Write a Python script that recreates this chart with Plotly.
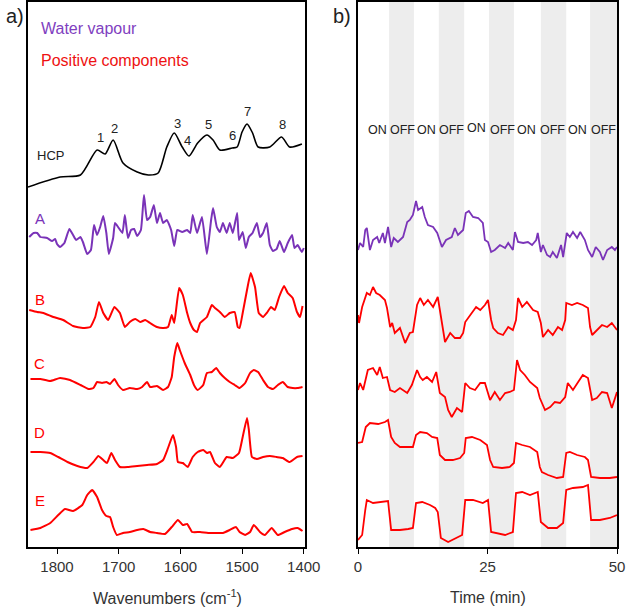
import plotly.graph_objects as go

# ---------------- Panel a: spectra (wavenumber, intensity a.u.) ----------------
WN_HCP = [1847, 1795, 1762, 1735, 1722, 1709, 1693, 1670, 1652, 1636, 1622, 1610, 1597, 1586,
          1572, 1557, 1547, 1536, 1516, 1508, 1500, 1492, 1483, 1474, 1455, 1436, 1423, 1403]
HCP = [3, 13, 15, 40, 36, 50, 27, 18, 15, 17, 43, 57, 43, 34,
       47, 55, 50, 40, 42, 43, 58, 66, 57, 43, 43, 53, 43, 46]

WN_A = [1845, 1838, 1832, 1827, 1816, 1808, 1803, 1800, 1795, 1788, 1780, 1774, 1769, 1762, 1758,
        1751, 1745, 1740, 1735, 1730, 1725, 1720, 1716, 1709, 1706, 1701, 1694, 1690, 1685, 1680,
        1675, 1670, 1664, 1659, 1654, 1649, 1643, 1638, 1633, 1628, 1622, 1615, 1610, 1605, 1597,
        1589, 1584, 1580, 1573, 1565, 1557, 1550, 1547, 1541, 1536, 1531, 1525, 1520, 1515, 1508,
        1505, 1499, 1494, 1489, 1483, 1476, 1471, 1466, 1460, 1455, 1450, 1444, 1439, 1432, 1426,
        1419, 1415, 1410, 1403, 1400]
SPEC_A = [18, 22, 22, 18, 17, 14, 16, 11, 8, 12, 26, 20, 15, 18, 13,
          1, 5, 30, 20, 28, 39, 22, 1, 17, 32, 28, 22, 40, 17, 25,
          26, 19, 25, 60, 35, 38, 50, 32, 42, 32, 35, 25, 9, 25, 23,
          25, 22, 40, 22, 38, 1, 36, 47, 28, 23, 32, 22, 32, 22, 42,
          15, 23, 7, 18, 22, 32, 18, 22, 32, 10, 4, 6, 14, 3, 12,
          20, 7, 10, 3, 7]

WN_B = [1845, 1832, 1822, 1806, 1790, 1774, 1758, 1746, 1738, 1732, 1725, 1717, 1707, 1698, 1690,
        1682, 1673, 1665, 1657, 1649, 1638, 1628, 1620, 1614, 1610, 1602, 1596, 1589, 1584, 1578,
        1573, 1568, 1557, 1549, 1544, 1536, 1528, 1520, 1512, 1507, 1504, 1499, 1492, 1486, 1479,
        1473, 1466, 1460, 1453, 1447, 1440, 1432, 1426, 1418, 1411, 1406, 1402]
SPEC_B = [20, 18, 17, 13, 10, 4, 2, 3, 13, 28, 17, 10, 23, 17, 3,
          8, 11, 8, 10, 7, 3, 2, 3, 15, 7, 42, 35, 17, 7, 0,
          -2, 7, 13, 25, 22, 18, 13, 17, 18, 3, 2, 17, 40, 57, 43,
          17, 13, 17, 23, 20, 33, 44, 37, 32, 18, 13, 24]

WN_C = [1843, 1827, 1811, 1795, 1779, 1762, 1749, 1741, 1735, 1727, 1720, 1714, 1707, 1701, 1693,
        1682, 1670, 1662, 1654, 1649, 1638, 1628, 1620, 1614, 1610, 1605, 1601, 1593, 1584, 1578,
        1572, 1563, 1557, 1549, 1542, 1536, 1528, 1520, 1512, 1504, 1495, 1487, 1481, 1474, 1466,
        1458, 1450, 1442, 1434, 1426, 1418, 1410, 1402]
SPEC_C = [13, 13, 11, 14, 12, 7, 3, 4, 10, 9, 10, 8, 13, 7, 2,
          4, 3, 5, 10, 5, 6, 2, 5, 15, 35, 49, 42, 29, 17, 7,
          2, 7, 19, 20, 24, 19, 14, 10, 7, 4, 9, 19, 22, 20, 12,
          5, 3, 7, 10, 5, 4, 4, 5]

WN_D = [1843, 1827, 1811, 1798, 1783, 1767, 1751, 1741, 1733, 1725, 1719, 1712, 1706, 1698, 1685,
        1670, 1654, 1638, 1628, 1620, 1612, 1607, 1604, 1596, 1588, 1580, 1572, 1563, 1557, 1552,
        1544, 1536, 1525, 1515, 1505, 1499, 1492, 1489, 1484, 1476, 1466, 1455, 1444, 1434, 1423,
        1411, 1402]
SPEC_D = [18, 18, 17, 13, 8, 4, 2, 8, 14, 10, 7, 17, 10, 3, 3,
          4, 5, 6, 10, 22, 35, 23, 8, 7, 3, 13, 18, 20, 17, 18,
          7, 3, 13, 12, 17, 33, 52, 40, 13, 11, 13, 14, 13, 12, 8,
          13, 14]

WN_E = [1843, 1827, 1811, 1798, 1787, 1774, 1759, 1751, 1743, 1735, 1727, 1720, 1714, 1709, 1703,
        1693, 1682, 1670, 1660, 1649, 1638, 1625, 1614, 1604, 1596, 1589, 1581, 1568, 1555, 1541,
        1531, 1520, 1510, 1504, 1495, 1487, 1481, 1471, 1463, 1452, 1442, 1431, 1419, 1410, 1402]
SPEC_E = [7, 9, 14, 22, 28, 26, 32, 42, 47, 40, 27, 21, 20, 10, 2,
          4, 5, 7, 8, 5, 4, 3, 10, 17, 12, 13, 5, 5, 4, 4,
          4, 7, 10, 5, 2, 5, 12, 5, 2, 9, 2, 5, 8, 9, 6]

PEAK_NUMS = ["1", "2", "3", "4", "5", "6", "7", "8"]
PEAK_WN = [1730, 1707, 1605, 1588, 1555, 1516, 1491, 1434]

# ---------------- Panel b: time traces (min, intensity a.u.) ----------------
T_A = [0.0, 0.4, 1.0, 1.4, 1.7, 2.3, 2.9, 3.7, 4.1, 4.8, 5.2, 5.8, 6.4, 6.9, 7.7, 8.7, 9.5, 10.0,
       10.6, 11.2, 11.6, 12.4, 12.9, 13.5, 14.5, 15.3, 16.2, 17.0, 18.1, 18.7, 19.3, 20.3, 20.8,
       21.4, 22.2, 23.2, 24.1, 24.5, 25.1, 25.7, 26.4, 27.4, 28.4, 29.0, 29.9, 30.3, 30.9, 31.9,
       32.8, 33.6, 34.4, 34.7, 35.3, 35.7, 36.5, 37.1, 37.6, 38.4, 39.2, 39.6, 40.3, 40.9, 41.5,
       42.3, 42.9, 43.8, 44.4, 45.2, 45.9, 46.7, 47.3, 48.1, 49.0, 49.6, 50.0]
TR_A = [10, 17, 13, 30, 32, 10, 20, 23, 17, 27, 17, 33, 13, 22, 18, 23, 38, 40,
        45, 59, 50, 53, 43, 35, 33, 27, 13, 20, 23, 32, 25, 30, 47,
        49, 43, 42, 37, 20, 18, 8, 10, 15, 12, 17, 10, 28, 18, 17,
        18, 15, 20, 27, 8, 15, 5, 3, 8, 2, 15, 3, 27, 23, 28,
        22, 28, 20, 10, 3, 13, 8, 0, 10, 13, 10, 13]

T_B = [0.0, 0.2, 0.8, 1.7, 2.3, 2.9, 3.5, 4.2, 5.2, 5.6, 6.2, 6.6, 7.1, 8.1, 9.1, 10.0, 10.6,
       11.0, 11.4, 12.0, 12.7, 13.5, 14.5, 15.4, 16.0, 16.4, 16.8, 17.8, 18.7, 19.7, 20.3, 20.7,
       21.0, 22.0, 22.8, 23.6, 24.5, 25.1, 25.7, 26.1, 27.0, 28.0, 29.0, 29.9, 30.5, 30.9, 31.7,
       32.6, 33.8, 34.7, 35.3, 35.7, 36.7, 37.6, 38.6, 39.4, 40.0, 40.2, 41.3, 42.3, 43.4, 44.4,
       44.8, 45.2, 46.1, 47.1, 48.1, 49.0, 50.0]
TR_B = [30, 22, 38, 52, 50, 58, 52, 50, 45, 37, 18, 22, 12, 17, 2, 12, 13,
        25, 40, 47, 40, 45, 38, 48, 28, 15, 3, 12, 7, 7, 12, 23,
        25, 32, 38, 35, 40, 45, 25, 17, 12, 10, 18, 15, 25, 47, 38,
        43, 35, 33, 22, 8, 15, 10, 18, 15, 25, 42, 40, 42, 40, 37,
        18, 10, 15, 20, 18, 22, 15]

T_C = [0.0, 0.4, 1.0, 1.9, 2.9, 3.7, 4.2, 4.8, 5.6, 6.2, 7.1, 8.1, 9.5, 10.4, 11.4, 12.0, 12.5,
       13.3, 14.3, 15.1, 15.8, 16.8, 17.4, 18.1, 19.1, 20.1, 20.7, 21.6, 22.6, 23.6, 24.5, 25.5,
       26.4, 27.4, 28.4, 29.3, 30.1, 30.7, 31.3, 32.2, 33.2, 34.6, 35.1, 36.1, 37.1, 38.0, 39.0,
       40.0, 40.5, 41.5, 42.5, 43.4, 44.4, 45.2, 46.1, 47.1, 48.1, 49.0, 50.0]
TR_C = [30, 37, 30, 50, 52, 45, 53, 42, 43, 30, 28, 32, 27, 35, 50, 43, 40,
        43, 38, 48, 27, 23, 10, 3, 12, 8, 37, 32, 30, 37, 37, 20,
        28, 20, 27, 28, 30, 60, 50, 45, 38, 32, 22, 10, 13, 18, 17,
        23, 37, 30, 38, 45, 42, 20, 22, 28, 27, 12, 28]

T_D = [0.0, 0.8, 1.5, 2.3, 3.9, 5.2, 5.8, 6.4, 7.1, 8.1, 9.5, 10.6, 11.2, 12.0, 13.3, 14.3, 15.3,
       15.8, 16.8, 18.3, 19.7, 20.5, 20.8, 22.0, 23.6, 24.9, 25.5, 26.1, 27.8, 29.3, 30.1, 30.5,
       31.7, 33.2, 34.6, 35.1, 35.5, 36.7, 38.4, 39.6, 40.2, 40.9, 42.3, 43.8, 44.4, 45.0, 46.7,
       48.6, 50.0]
TR_D = [37, 38, 53, 57, 56, 58, 60, 43, 37, 33, 33, 33, 45, 48, 47, 43, 42,
        25, 20, 20, 22, 27, 42, 43, 40, 35, 20, 13, 12, 13, 17, 37,
        35, 33, 28, 13, 8, 5, 2, 3, 27, 28, 25, 23, 20, 3, 2,
        2, 3]

T_E = [0.0, 0.8, 1.4, 1.7, 2.9, 4.2, 5.8, 6.4, 8.1, 9.7, 10.6, 11.2, 12.4, 13.9, 14.9, 15.4, 16.0,
       17.4, 19.1, 20.1, 20.7, 22.2, 24.1, 25.1, 25.7, 26.8, 28.4, 29.9, 30.5, 31.7, 33.2, 34.7,
       35.3, 36.7, 38.4, 39.6, 40.2, 41.5, 43.4, 44.4, 45.0, 46.7, 48.6, 50.0]
TR_E = [5, 10, 35, 45, 42, 43, 44, 15, 15, 16, 17, 42, 43, 40, 37, 33, 7,
        3, 7, 10, 45, 45, 42, 45, 13, 12, 10, 13, 52, 53, 50, 53,
        23, 17, 17, 22, 55, 57, 58, 60, 25, 25, 27, 30]

BAND_STARTS = [6.0, 15.6, 25.3, 35.3, 44.8]
BAND_ENDS = [10.8, 20.5, 30.1, 40.2, 50.0]
SWITCH_LABELS = ["ON", "OFF", "ON", "OFF", "ON", "OFF", "ON", "OFF", "ON", "OFF"]
SWITCH_T = [3.7, 8.5, 13.3, 18.1, 22.8, 27.8, 32.6, 37.6, 42.3, 47.3]

TRACE_NAMES = ["A", "B", "C", "D", "E"]

# ---------------- styling / layout ----------------
PURPLE = "#7A33B8"
RED = "#FF0000"
FONT = "Liberation Sans, Arial, sans-serif"

# vertical stacking offsets (axis units)
OFF_A = {"HCP": 357, "A": 292, "B": 217, "C": 155, "D": 77, "E": 10}
OFF_B = {"A": 287, "B": 202, "C": 127, "D": 67, "E": 2}

fig = go.Figure()

fig.add_trace(go.Scatter(x=WN_HCP, y=[v + OFF_A["HCP"] for v in HCP], mode="lines",
                         line=dict(color="black", width=1.6, shape="spline", smoothing=0.7),
                         xaxis="x", yaxis="y", showlegend=False, hoverinfo="skip"))
panel_a = [("A", WN_A, SPEC_A, PURPLE), ("B", WN_B, SPEC_B, RED), ("C", WN_C, SPEC_C, RED),
           ("D", WN_D, SPEC_D, RED), ("E", WN_E, SPEC_E, RED)]
for name, xs, ys, col in panel_a:
    fig.add_trace(go.Scatter(x=xs, y=[v + OFF_A[name] for v in ys], mode="lines",
                             line=dict(color=col, width=2, shape="spline", smoothing=0.4),
                             xaxis="x", yaxis="y", showlegend=False, hoverinfo="skip"))

panel_b = [("A", T_A, TR_A, PURPLE), ("B", T_B, TR_B, RED), ("C", T_C, TR_C, RED),
           ("D", T_D, TR_D, RED), ("E", T_E, TR_E, RED)]
for name, xs, ys, col in panel_b:
    fig.add_trace(go.Scatter(x=xs, y=[v + OFF_B[name] for v in ys], mode="lines",
                             line=dict(color=col, width=1.8),
                             xaxis="x2", yaxis="y2", showlegend=False, hoverinfo="skip"))

shapes = []
for s, e in zip(BAND_STARTS, BAND_ENDS):
    shapes.append(dict(type="rect", xref="x2", yref="y2 domain", x0=s, x1=e, y0=0, y1=1,
                       fillcolor="#EDEDED", line=dict(width=0), layer="below"))

CM = dict(xanchor="center", yanchor="middle", showarrow=False)
ann = []
# panel letters
ann.append(dict(text="a)", x=15 / 626, y=1 - 16 / 609, xref="paper", yref="paper",
                font=dict(size=20, color="#222", family=FONT), **CM))
ann.append(dict(text="b)", x=342 / 626, y=1 - 16 / 609, xref="paper", yref="paper",
                font=dict(size=20, color="#222", family=FONT), **CM))
# legend-like texts
ann.append(dict(text="Water vapour", x=1829, y=518, xref="x", yref="y", xanchor="left",
                yanchor="middle", showarrow=False,
                font=dict(size=16, color="#8040C0", family=FONT)))
ann.append(dict(text="Positive components", x=1829, y=487, xref="x", yref="y", xanchor="left",
                yanchor="middle", showarrow=False,
                font=dict(size=16, color="#EE1111", family=FONT)))
ann.append(dict(text="HCP", x=1835, y=392, xref="x", yref="y", xanchor="left",
                yanchor="middle", showarrow=False,
                font=dict(size=13, color="#222", family=FONT)))
label_y = [329, 248, 184, 115, 47]
for name, ly in zip(TRACE_NAMES, label_y):
    ann.append(dict(text=name, x=1828, y=ly, xref="x", yref="y",
                    font=dict(size=15, color=PURPLE if name == "A" else RED, family=FONT), **CM))
peak_y = [410, 419, 424, 407, 423, 412, 436, 423]
for n, w, py in zip(PEAK_NUMS, PEAK_WN, peak_y):
    ann.append(dict(text=n, x=w, y=py, xref="x", yref="y",
                    font=dict(size=13, color="#222", family=FONT), **CM))
for i, (lab, t) in enumerate(zip(SWITCH_LABELS, SWITCH_T)):
    ann.append(dict(text=lab, x=t, y=419 if i == 4 else 417, xref="x2", yref="y2",
                    font=dict(size=12.5, color="#222", family=FONT), **CM))
# axis titles
ann.append(dict(text="Wavenumbers (cm<sup>-1</sup>)", x=167 / 626, y=1 - 597 / 609,
                xref="paper", yref="paper",
                font=dict(size=16, color="#333", family=FONT), **CM))
ann.append(dict(text="Time (min)", x=488 / 626, y=1 - 597 / 609,
                xref="paper", yref="paper",
                font=dict(size=16, color="#333", family=FONT), **CM))

axis_common = dict(showline=True, mirror=True, linecolor="black", linewidth=1.5,
                   showgrid=False, zeroline=False, automargin=False)
ydom = [1 - 547 / 609, 1 - 2 / 609]

fig.update_layout(
    width=626, height=609,
    margin=dict(l=0, r=0, t=0, b=0, pad=0, autoexpand=False),
    paper_bgcolor="white", plot_bgcolor="rgba(0,0,0,0)",
    font=dict(family=FONT),
    xaxis=dict(domain=[28 / 626, 305 / 626], range=[1847, 1398], anchor="y",
               tickvals=[1800, 1700, 1600, 1500, 1400], ticks="outside", ticklen=5,
               tickcolor="black", tickfont=dict(size=15, color="#333"), **axis_common),
    yaxis=dict(domain=ydom, range=[0, 545], anchor="x", showticklabels=False, ticks="",
               **axis_common),
    xaxis2=dict(domain=[358 / 626, 617 / 626], range=[0, 50], anchor="y2",
                tickvals=[0, 25, 50], ticks="outside", ticklen=5, tickcolor="black",
                tickfont=dict(size=15, color="#333"), **axis_common),
    yaxis2=dict(domain=ydom, range=[0, 545], anchor="x2", showticklabels=False, ticks="",
                **axis_common),
    shapes=shapes,
    annotations=ann,
)

fig.write_html(
    "out.html",
    config={"displayModeBar": False},
    post_script="document.body.style.margin='0';document.body.style.overflow='hidden';",
)
